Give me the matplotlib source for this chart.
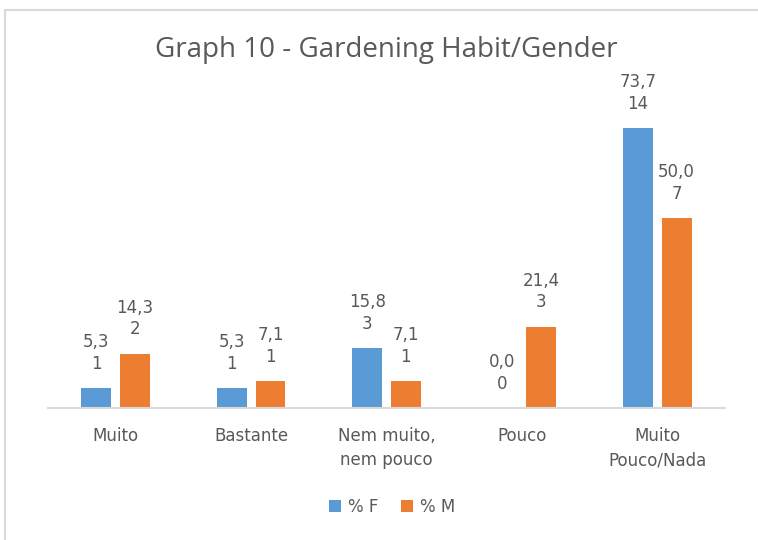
import matplotlib.pyplot as plt
import numpy as np
from matplotlib.patches import Rectangle

# Data
categories = ['Muito', 'Bastante', 'Nem muito,\nnem pouco', 'Pouco', 'Muito\nPouco/Nada']
pct_f = [5.3, 5.3, 15.8, 0.0, 73.7]
pct_m = [14.3, 7.1, 7.1, 21.4, 50.0]
count_f = [1, 1, 3, 0, 14]
count_m = [2, 1, 1, 3, 7]

blue = '#5B9BD5'
orange = '#ED7D31'
text_gray = '#595959'

fig = plt.figure(figsize=(7.58, 5.4), dpi=100)
ax = fig.add_axes([48 / 758, 1 - 408 / 540, (725 - 48) / 758, 304 / 540])

x = np.arange(len(categories))
w = 0.22
off = 0.143
bf = ax.bar(x - off, pct_f, w, color=blue, label='% F')
bm = ax.bar(x + off, pct_m, w, color=orange, label='% M')

def fmt(v):
    return f'{v:.1f}'.replace('.', ',')

for bars, vals, counts in [(bf, pct_f, count_f), (bm, pct_m, count_m)]:
    for b, v, c in zip(bars, vals, counts):
        ax.annotate(f'{fmt(v)}\n{c}', (b.get_x() + b.get_width() / 2, v),
                    xytext=(0, 11), textcoords='offset points', ha='center', va='bottom',
                    fontsize=12, color=text_gray, linespacing=1.25, family='DejaVu Sans')

ax.set_xlim(-0.5, len(categories) - 0.5)
ax.set_ylim(0, 80)
ax.set_yticks([])
ax.set_xticks(x)
ax.set_xticklabels(categories, fontsize=12, color=text_gray, linespacing=1.4, family='DejaVu Sans')
ax.tick_params(axis='x', length=0, pad=14)
for s in ['top', 'right', 'left']:
    ax.spines[s].set_visible(False)
ax.spines['bottom'].set_color('#D9D9D9')
ax.spines['bottom'].set_linewidth(1.5)

fig.text(386 / 758, 1 - 50 / 540, 'Graph 10 - Gardening Habit/Gender', ha='center', va='center',
         fontsize=20, color=text_gray, family='Open Sans')

fig.legend(handles=[bf, bm], loc='center', bbox_to_anchor=(392 / 758, 1 - 507 / 540), ncol=2,
           frameon=False, prop={'family': 'DejaVu Sans', 'size': 12}, labelcolor=text_gray,
           handlelength=0.7, handleheight=0.7, handletextpad=0.4, columnspacing=1.4)

# chart frame (top and left edges visible)
fig.patches.append(Rectangle((5 / 758, -0.1), 1.1, 1 - 10 / 540 + 0.1, transform=fig.transFigure,
                             fill=False, edgecolor='#D9D9D9', linewidth=1.5))

fig.savefig('out.png', dpi=100)
